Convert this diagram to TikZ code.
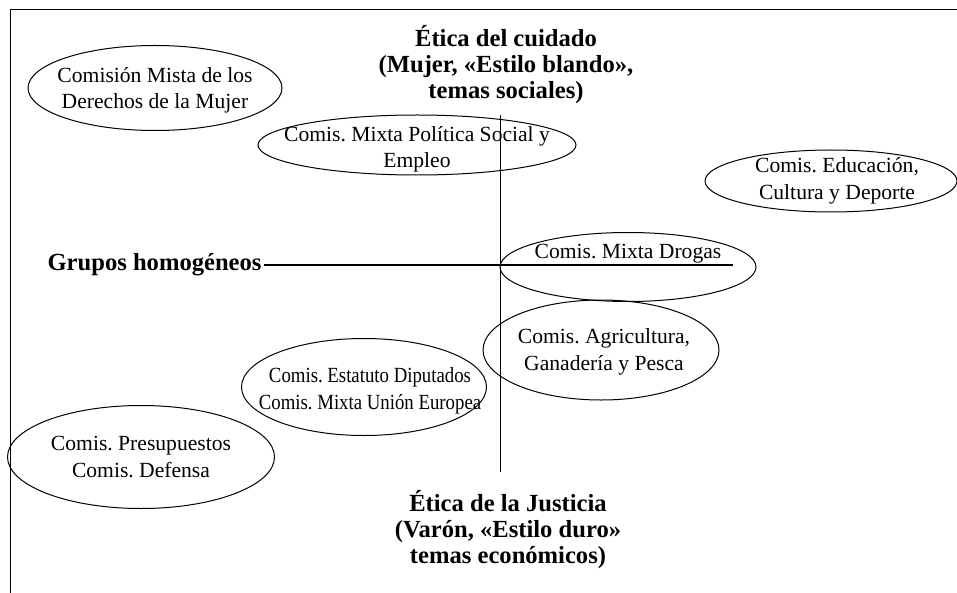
\documentclass[tikz,border=0pt]{standalone}
\usepackage{fontspec}
\setmainfont{Liberation Serif}
\newfontfamily\narrowserif[FakeStretch=0.87]{Liberation Serif}
\usetikzlibrary{positioning,shapes.geometric}
\frenchspacing

\begin{document}
\begin{tikzpicture}[x=0.5pt,y=-0.5pt,
  line width=0.5pt,
  comis/.style={draw,ellipse,inner sep=0pt},
  comistext/.style={align=center,inner sep=0pt,font=\fontsize{10.8}{13.2}\selectfont},
  etica/.style={align=center,inner sep=0pt,font=\fontsize{12.3}{13}\selectfont\bfseries}
]
\useasboundingbox (0,0) rectangle (957,593);

% the frame
\draw (957,10) -- (10,10) -- (10,593);

% the axes
\coordinate (vtop) at (500,115);
\coordinate (vbot) at (500,472);
\coordinate (hend) at (733,265);
\node[etica,anchor=east,inner sep=1pt] (grupos) at (264,265) {Grupos homogéneos};
\draw (vtop) -- (vbot);
\draw[line width=0.8pt] (grupos) -- (hend);

% the two poles
\node[etica] (cuidado) at (506,65) {Ética del cuidado\\(Mujer, «Estilo blando»,\\temas sociales)};
\node[etica] (justicia) at (508,530) {Ética de la Justicia\\(Varón, «Estilo duro»\\temas económicos)};

% the committees
\node[comis,minimum width=127pt,minimum height=42.5pt,
  label={[comistext,yshift=-1pt]center:Comisión Mista de los\\Derechos de la Mujer}] (mujer) at (155,88) {};
\node[comis,minimum width=159pt,minimum height=30pt,
  label={[comistext,yshift=-2pt]center:Comis. Mixta Política Social y\\Empleo}] (social) at (417,145) {};
\node[comis,minimum width=126pt,minimum height=31pt,
  label={[comistext,xshift=3pt]center:Comis. Educación,\\Cultura y Deporte}] (educ) at (831,181) {};
\node[comis,minimum width=128pt,minimum height=34.5pt,
  label={[comistext,yshift=6.5pt]center:Comis. Mixta Drogas}] (drogas) at (628,267) {};
\node[comis,minimum width=118pt,minimum height=50pt,
  label={[comistext,xshift=1.5pt,yshift=-1pt]center:Comis. Agricultura,\\Ganadería y Pesca}] (agric) at (601,350) {};
\node[comis,minimum width=122.5pt,minimum height=48.5pt,
  label={[comistext,font=\fontsize{10.8}{13.2}\narrowserif,xshift=3pt,yshift=-2pt]center:Comis. Estatuto Diputados\\Comis. Mixta Unión Europea}] (estatuto) at (364,387) {};
\node[comis,minimum width=133.5pt,minimum height=51.5pt,
  label={[comistext]center:Comis. Presupuestos\\Comis. Defensa}] (presup) at (141,457) {};
\end{tikzpicture}
\end{document}
